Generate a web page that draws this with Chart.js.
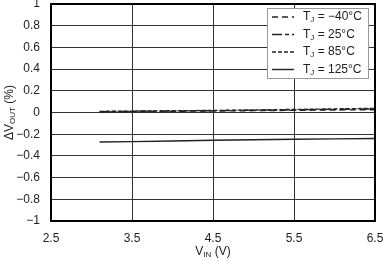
<!DOCTYPE html>
<html>
<head>
<meta charset="utf-8">
<script src="https://cdn.jsdelivr.net/npm/chart.js@4.4.1/dist/chart.umd.min.js"></script>
<style>
  body { margin: 0; background: #fff; }
  canvas { display: block; }
</style>
</head>
<body>
<canvas id="myChart" width="383" height="261"></canvas>
<script>
// input voltage (V)
var vin = [3.1, 3.5, 4.0, 4.5, 5.0, 5.5, 6.0, 6.5];
// change of output voltage (%) for each junction temperature
var dv_m40 = [0.005, 0.008, 0.011, 0.014, 0.017, 0.020, 0.023, 0.026];
var dv_25 = [0.008, 0.011, 0.014, 0.017, 0.021, 0.025, 0.029, 0.033];
var dv_85 = [0.010, 0.013, 0.016, 0.019, 0.023, 0.028, 0.033, 0.038];
var dv_125 = [-0.272, -0.268, -0.262, -0.256, -0.251, -0.247, -0.243, -0.240];
var legendTemps = ['\u221240\u00b0C', '25\u00b0C', '85\u00b0C', '125\u00b0C'];

var fontName = '"Liberation Sans", Arial, sans-serif';

function pts(ys) {
    var out = [];
    for (let i = 0; i < vin.length; i++) {
        out.push({x: vin[i], y: ys[i]});
    }
    return out;
}

var dashes = [[6, 4], [10, 3, 4, 3], [4, 2], []];

function ds(label, ys, dash) {
    return {
        label: label,
        data: pts(ys),
        borderColor: '#222',
        borderWidth: 1.4,
        borderDash: dash,
        pointRadius: 0,
        tension: 0,
        fill: false
    };
}

// text with a subscript, e.g. V + IN
function subText(ctx, x, y, main, sub, rest, size) {
    ctx.font = size + 'px ' + fontName;
    ctx.fillText(main, x, y);
    x += ctx.measureText(main).width;
    ctx.font = Math.round(size * 0.7) + 'px ' + fontName;
    ctx.fillText(sub, x, y + 3);
    x += ctx.measureText(sub).width;
    ctx.font = size + 'px ' + fontName;
    ctx.fillText(rest, x, y);
    return x + ctx.measureText(rest).width;
}

function subWidth(ctx, main, sub, rest, size) {
    ctx.font = size + 'px ' + fontName;
    var w = ctx.measureText(main).width + ctx.measureText(rest).width;
    ctx.font = Math.round(size * 0.7) + 'px ' + fontName;
    return w + ctx.measureText(sub).width;
}

var extras = {
    id: 'extras',
    afterDraw: function(chart) {
        var ctx = chart.ctx, a = chart.chartArea;
        ctx.save();
        // frame
        ctx.strokeStyle = '#000';
        ctx.lineWidth = 2;
        ctx.strokeRect(a.left, a.top, a.right - a.left, a.bottom - a.top);

        // legend box
        var bx = 267, by = 8, bw = 101, bh = 70;
        ctx.fillStyle = '#fff';
        ctx.fillRect(bx, by, bw, bh);
        ctx.strokeStyle = '#999';
        ctx.lineWidth = 1;
        ctx.strokeRect(bx + 0.5, by + 0.5, bw, bh);
        ctx.textBaseline = 'middle';
        ctx.textAlign = 'left';
        for (let i = 0; i < legendTemps.length; i++) {
            var yy = 17 + i * 17.5;
            ctx.strokeStyle = '#222';
            ctx.lineWidth = 1.4;
            ctx.setLineDash(dashes[i]);
            ctx.beginPath();
            ctx.moveTo(272, yy);
            ctx.lineTo(294, yy);
            ctx.stroke();
            ctx.setLineDash([]);
            ctx.fillStyle = '#222';
            subText(ctx, 303, yy, 'T', 'J', ' = ' + legendTemps[i], 12);
        }

        // axis titles
        ctx.fillStyle = '#222';
        ctx.textBaseline = 'middle';
        var w = subWidth(ctx, 'V', 'IN', ' (V)', 12);
        subText(ctx, (a.left + a.right) / 2 - w / 2, 252, 'V', 'IN', ' (V)', 12);

        ctx.translate(10, (a.top + a.bottom) / 2);
        ctx.rotate(-Math.PI / 2);
        w = subWidth(ctx, '\u0394V', 'OUT', ' (%)', 12);
        subText(ctx, -w / 2, 0, '\u0394V', 'OUT', ' (%)', 12);
        ctx.restore();
    }
};

const ctx = document.getElementById('myChart').getContext('2d');
const myChart = new Chart(ctx, {
    type: 'line',
    data: {
        datasets: [
            ds('-40', dv_m40, dashes[0]),
            ds('25', dv_25, dashes[1]),
            ds('85', dv_85, dashes[2]),
            ds('125', dv_125, dashes[3])
        ]
    },
    options: {
        responsive: false,
        animation: false,
        layout: {
            autoPadding: false,
            padding: {left: 0, right: 8, top: 4, bottom: 0}
        },
        plugins: {
            legend: {display: false},
            tooltip: {enabled: false}
        },
        scales: {
            x: {
                type: 'linear',
                min: 2.5,
                max: 6.5,
                afterFit: function(s) {
                    s.height = 40;
                    s.paddingLeft = 0; s.paddingRight = 0;
                    s.paddingTop = 0; s.paddingBottom = 0;
                },
                afterBuildTicks: function(s) {
                    s.ticks = [2.5, 3.5, 4.5, 5.5, 6.5].map(function(v) { return {value: v}; });
                },
                ticks: {
                    color: '#222',
                    padding: 10,
                    maxRotation: 0,
                    font: {family: fontName, size: 12},
                    callback: function(v) { return v.toFixed(1); }
                },
                grid: {color: '#333', lineWidth: 1, drawTicks: false},
                border: {display: false}
            },
            y: {
                min: -1,
                max: 1,
                afterFit: function(s) {
                    s.width = 51;
                    s.paddingLeft = 0; s.paddingRight = 0;
                    s.paddingTop = 0; s.paddingBottom = 0;
                },
                ticks: {
                    stepSize: 0.2,
                    color: '#222',
                    padding: 11,
                    font: {family: fontName, size: 12},
                    callback: function(v) {
                        var r = Math.round(v * 10) / 10;
                        if (r === 0) return '0';
                        var t = (Math.abs(r) === 1) ? '1' : Math.abs(r).toFixed(1);
                        return (r < 0 ? '\u2212' : '') + t;
                    }
                },
                grid: {color: '#333', lineWidth: 1, drawTicks: false},
                border: {display: false}
            }
        }
    },
    plugins: [extras]
});
</script>
</body>
</html>
